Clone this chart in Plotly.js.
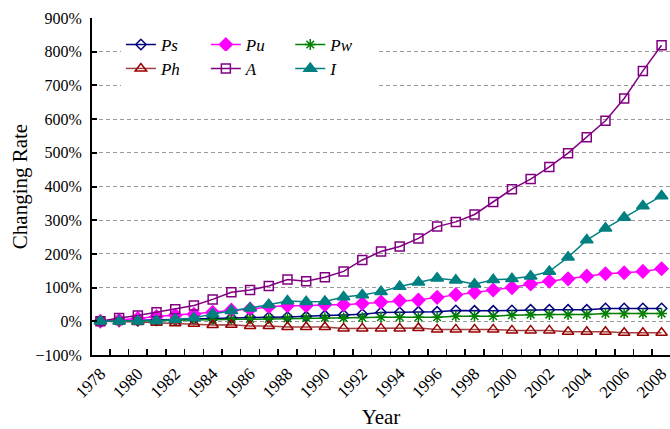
<!DOCTYPE html>
<html>
<head>
<meta charset="utf-8">
<script src="https://cdn.plot.ly/plotly-3.0.1.min.js"></script>
<style>html,body{margin:0;padding:0;background:#fff}#chart{width:670px;height:429px}</style>
</head>
<body>
<div id="chart"></div>
<script>
const years = [1978,1979,1980,1981,1982,1983,1984,1985,1986,1987,1988,1989,1990,1991,1992,1993,1994,1995,1996,1997,1998,1999,2000,2001,2002,2003,2004,2005,2006,2007,2008];
const Ps = [0,1,2,3,4,6,8,10,12,12,13,14,17,19,21,26,26,28,28,32,31,31,32,34,34,34,34,38,38,38,38];
const Pu = [0,3,8,14,18,21,27,33,36,43,46,46,49,49,53,57,61,63,71,79,86,93,100,111,119,126,134,141,144,148,156];
const Pw = [0,0,1,2,3,4,5,6,7,8,9,10,10,10,11,12,12,12,12,15,15,15,18,20,20,20,20,23,23,23,23];
const Ph = [0,0,-2,-4,-6,-7,-11,-10,-14,-14,-17,-17,-17,-21,-21,-21,-21,-20,-24,-24,-24,-24,-27,-27,-27,-31,-31,-31,-34,-34,-34];
const A  = [0,10,17,27,36,47,65,86,93,105,124,119,131,148,182,207,222,246,281,295,317,354,392,422,458,499,546,595,661,743,819];
const I  = [0,0,0,2,5,10,22,31,39,49,60,58,59,72,78,88,103,116,128,122,110,123,126,134,148,190,241,276,308,342,372];
const xTickYears = [1978,1980,1982,1984,1986,1988,1990,1992,1994,1996,1998,2000,2002,2004,2006,2008];

function tr(name, y, color, symbol, size, legend, lineColor) {
  return {
    x: years, y: y, name: name, type: 'scatter', mode: 'lines+markers',
    line: {color: lineColor || color, width: 1.5},
    marker: {symbol: symbol, size: size, color: color, line: {color: color, width: 1.5}},
    legend: legend
  };
}
const traces = [
  tr('Ps', Ps, '#000080', 'diamond-open', 8, 'legend'),
  tr('Pu', Pu, '#ff00ff', 'diamond', 10, 'legend2'),
  tr('Pw', Pw, '#008000', 'asterisk-open', 9, 'legend3'),
  tr('Ph', Ph, '#990000', 'triangle-up-open', 10, 'legend4', '#a04040'),
  tr('A', A, '#800080', 'square-open', 9, 'legend5'),
  tr('I', I, '#008080', 'triangle-up', 11, 'legend6')
];
const legFont = {family: 'Liberation Serif', size: 17, style: 'italic', color: '#000'};
function leg(x, y) {
  return {x: x, xanchor: 'left', y: y, yanchor: 'middle', orientation: 'h',
    bgcolor: '#fff', font: legFont, entrywidth: 42, entrywidthmode: 'pixels', borderwidth: 0};
}
const col = [0.050, 0.197, 0.343];
const row = [0.92, 0.849];
const layout = {
  width: 670, height: 429,
  margin: {l: 92, r: 0, t: 18, b: 74},
  paper_bgcolor: '#fff', plot_bgcolor: '#fff',
  font: {family: 'Liberation Serif', color: '#000'},
  showlegend: true,
  legend: leg(col[0], row[0]), legend2: leg(col[1], row[0]), legend3: leg(col[2], row[0]),
  legend4: leg(col[0], row[1]), legend5: leg(col[1], row[1]), legend6: leg(col[2], row[1]),
  xaxis: {
    range: [1977.55, 2008.45], tickmode: 'array', tickvals: xTickYears, ticktext: xTickYears.map(String),
    tickangle: -45, ticks: '', showgrid: false, zeroline: false, ticklabeloverflow: 'allow',
    showline: true, linecolor: '#000', linewidth: 2,
    tickfont: {family: 'Liberation Serif', size: 17, color: '#000'},
    minor: {tickmode: 'linear', tick0: 1977.5, dtick: 1, ticks: 'inside', ticklen: 6, tickcolor: '#000', tickwidth: 1.5, showgrid: false},
    title: {text: 'Year', font: {family: 'Liberation Serif', size: 21, color: '#000'}, standoff: 12}
  },
  yaxis: {
    range: [-100, 900], tickmode: 'linear', tick0: -100, dtick: 100, ticksuffix: '%',
    ticks: 'inside', ticklen: 5, tickcolor: '#000', tickwidth: 2, ticklabelstandoff: 5,
    showline: true, linecolor: '#000', linewidth: 2, zeroline: false,
    showgrid: true, gridcolor: '#999', griddash: '4px,3px', gridwidth: 1,
    tickfont: {family: 'Liberation Serif', size: 16, color: '#000'},
    title: {text: 'Changing Rate', font: {family: 'Liberation Serif', size: 21, color: '#000'}, standoff: 2}
  }
};
Plotly.newPlot('chart', traces, layout, {displayModeBar: false, staticPlot: true});
</script>
</body>
</html>
